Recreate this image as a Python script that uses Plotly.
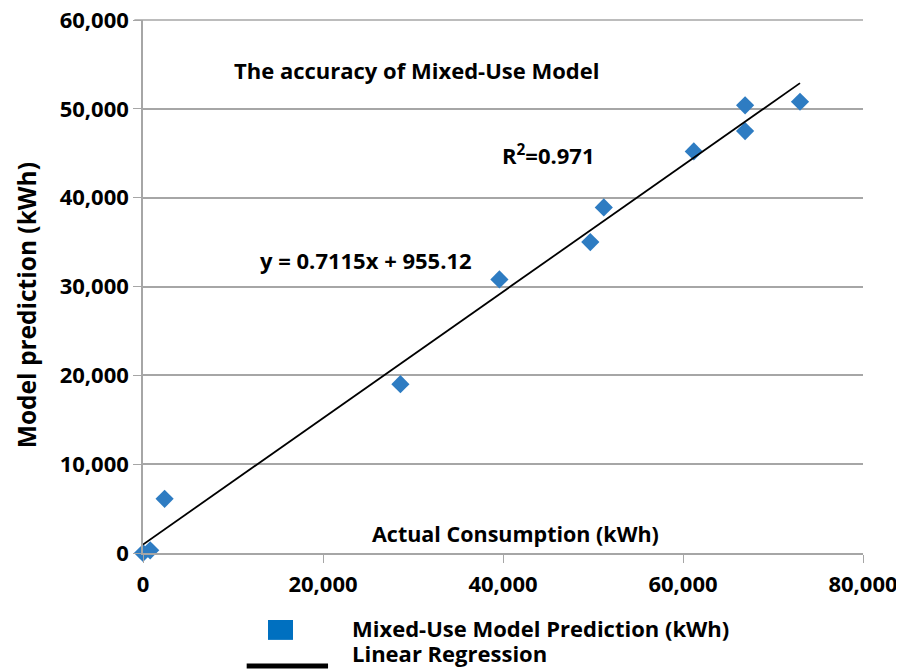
import plotly.graph_objects as go

# ---------- DATA ----------

actual_kwh = [0, 800, 2400, 28600, 39600, 49700, 51200, 61200, 66900, 66900, 73000]
predicted_kwh = [0, 300, 6100, 19000, 30800, 35000, 38900, 45200, 47500, 50400, 50800]

slope = 0.7115
intercept = 955.12
fit_x = [0, 73000]
fit_y = [slope * x + intercept for x in fit_x]

x_ticks = [0, 20000, 40000, 60000, 80000]
y_ticks = [0, 10000, 20000, 30000, 40000, 50000, 60000]

BLUE = "#2E7CC2"
GRID = "#A6A6A6"
FONT = "Open Sans"

# ---------- FIGURE ----------

fig = go.Figure()

fig.add_scatter(
    x=actual_kwh,
    y=predicted_kwh,
    mode="markers",
    marker=dict(symbol="diamond", size=14, color=BLUE),
    cliponaxis=False,
    showlegend=False,
)

fig.add_scatter(
    x=fit_x,
    y=fit_y,
    mode="lines",
    line=dict(color="black", width=1.8),
    cliponaxis=False,
    showlegend=False,
)

# page body adds an 8px offset, size and margins compensate for it
fig.update_layout(
    width=896,
    height=661,
    plot_bgcolor="white",
    paper_bgcolor="white",
    margin=dict(l=135, r=41, t=12, b=116),
    font=dict(family=FONT, size=18, color="black"),
)

tick_font = dict(family=FONT, size=22, color="black", weight="bold")

fig.update_xaxes(
    range=[0, 80000],
    tickvals=x_ticks,
    tickformat=",d",
    tickfont=tick_font,
    ticklabeloverflow="allow",
    ticklabelstandoff=3,
    automargin=False,
    showgrid=False,
    showline=True,
    linecolor=GRID,
    linewidth=1.5,
    ticks="outside",
    ticklen=8,
    tickcolor=GRID,
    zeroline=False,
)

fig.update_yaxes(
    range=[0, 60000],
    tickvals=y_ticks,
    tickformat=",d",
    tickfont=tick_font,
    ticklabeloverflow="allow",
    automargin=False,
    showgrid=True,
    gridcolor=GRID,
    gridwidth=1.5,
    showline=True,
    linecolor=GRID,
    linewidth=1.5,
    ticks="outside",
    ticklen=8,
    tickcolor=GRID,
    zeroline=False,
)

# top gridline sits on the plot edge, draw it explicitly
fig.add_shape(type="line", xref="paper", yref="paper", x0=-0.012, x1=1, y0=1, y1=1,
              line=dict(color=GRID, width=1.5))

# ---------- TEXT ----------

bold = dict(family=FONT, size=22, color="black", weight="bold")


def label(x, y, text, font=bold, angle=0, xanchor="left"):
    fig.add_annotation(x=x, y=y, xref="paper", yref="paper", xanchor=xanchor,
                       yanchor="middle", text=text, showarrow=False, font=font,
                       textangle=angle)


# y axis title, placed a little below the plot centre as in the original
label(-0.1625, 0.465, "Model prediction (kWh)", dict(bold, size=24.5), angle=-90,
      xanchor="center")

label(0.1236, 0.906, "The accuracy of Mixed-Use Model")
label(0.496, 0.747, "R<sup>2</sup>=0.971")
label(0.160, 0.550, "y = 0.7115x + 955.12")
label(0.315, 0.0375, "Actual Consumption (kWh)", dict(bold, size=21.5))

# ---------- LEGEND (drawn below the plot) ----------

fig.add_shape(type="rect", xref="paper", yref="paper",
              x0=0.1736, x1=0.2083, y0=-0.1257, y1=-0.163,
              fillcolor="#0070C0", line=dict(width=0))
fig.add_shape(type="line", xref="paper", yref="paper",
              x0=0.144, x1=0.257, y0=-0.212, y1=-0.212,
              line=dict(color="black", width=5))
label(0.2875, -0.141, "Mixed-Use Model Prediction (kWh)")
label(0.2875, -0.187, "Linear Regression")

fig.write_html("out.html")
